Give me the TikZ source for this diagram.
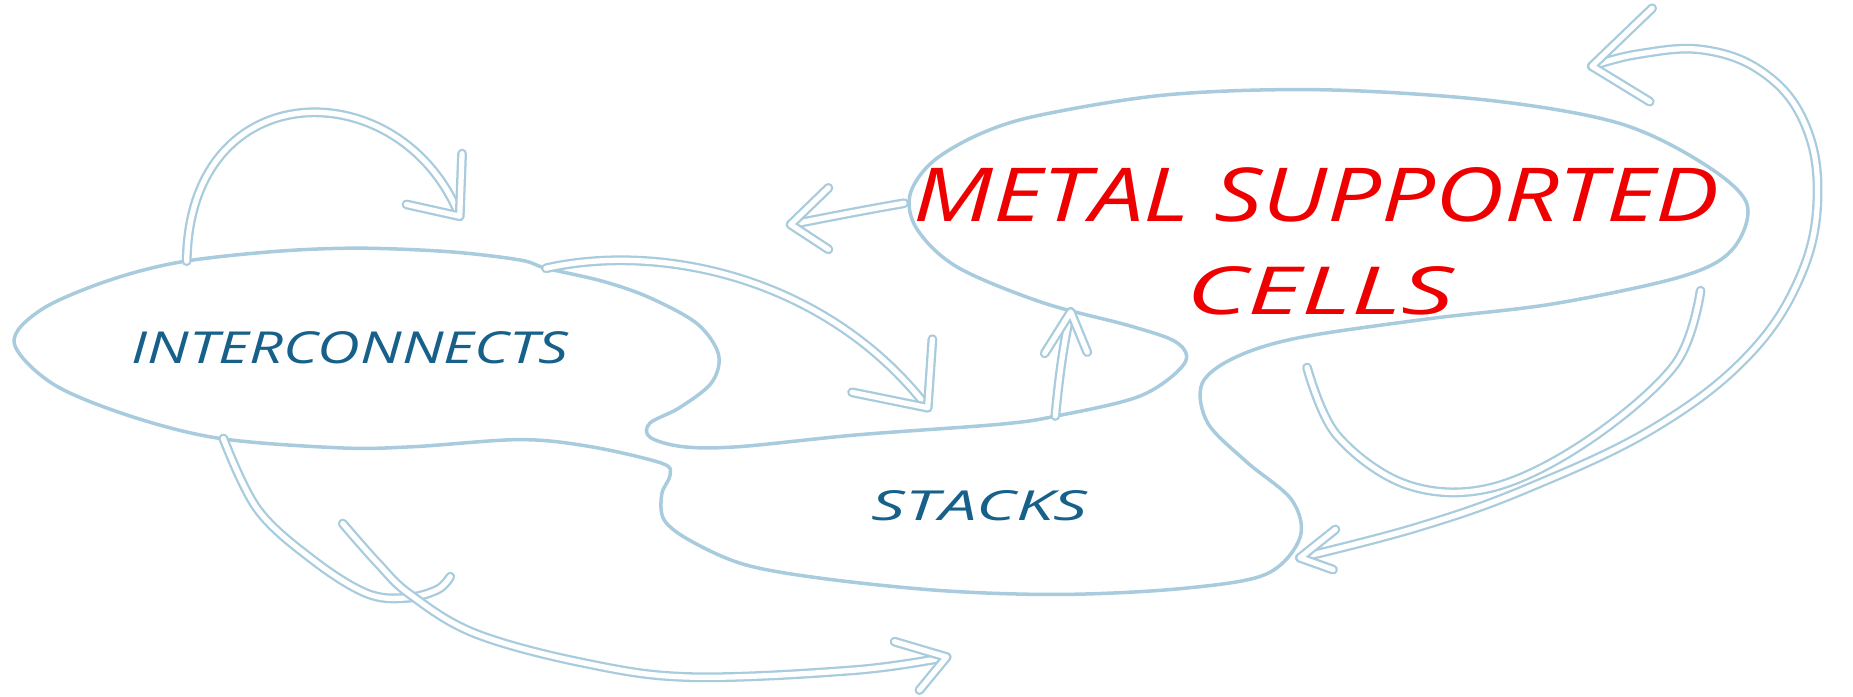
\documentclass[tikz,border=0pt]{standalone}
\usepackage{graphicx}
\usepackage{fontspec}
\newfontfamily\handfont{Open Sans}
\definecolor{penblue}{RGB}{168,204,222}
\definecolor{inkblue}{RGB}{22,96,138}
\definecolor{inkred}{RGB}{238,0,0}
\tikzset{
  outline/.style={draw=penblue,line width=1pt,line join=round},
  shaft/.style={draw=penblue,line width=0.65pt,double=white,double distance=1.5pt,line cap=round,line join=round},
  blobtext/.style={inner sep=0pt,font=\handfont\itshape}
}
\newcommand{\vhead}[3]{\draw[shaft] (#2) -- (#1) -- (#3);}
\begin{document}
\begin{tikzpicture}[x=0.011818cm,y=-0.011818cm]
            \useasboundingbox (0,0) rectangle (1568,589);
                % one outline round the three lobes
                \draw[outline] plot[smooth cycle,tension=0.55] coordinates {
                  (12,290) (35,262) (90,238) (151,222) (230,213) (302,210) (380,213) (440,220) (462,227)
                  (510,238) (550,252) (590,274) (608,300) (602,324) (575,345) (550,358) (550,370) (578,378)
                  (625,378) (725,368) (846,359) (894,352) (965,335) (1002,308) (996,290) (957,276) (882,256)
                  (810,226) (776,194) (770,165) (789,137) (830,113) (882,97) (990,80) (1120,76) (1261,85)
                  (1369,104) (1439,137) (1478,172) (1466,211) (1423,234) (1315,257) (1207,270) (1098,286)
                  (1044,303) (1017,325) (1022,358) (1055,391) (1093,423) (1100,455) (1071,486) (1000,498)
                  (900,503) (800,500) (700,490) (631,478) (585,458) (562,440) (560,418) (567,402) (560,392)
                  (500,378) (440,372) (350,378) (288,379) (186,371) (110,352) (45,325)};
                \node[blobtext,text=inkblue] (ic) at (296,294) {\resizebox{4.37cm}{0.32cm}{INTERCONNECTS}};
                \node[blobtext,text=inkblue] (st) at (829,428) {\resizebox{2.16cm}{0.30cm}{STACKS}};
                \node[blobtext,text=inkred] (msc) at (1114,165) {\resizebox{8.07cm}{0.54cm}{METAL SUPPORTED}};
                \node[blobtext,text=inkred] (cells) at (1117,246) {\resizebox{2.68cm}{0.48cm}{CELLS}};
                % arrow ends
                \coordinate (ictop) at (158,221);
                \coordinate (ictip) at (389,183);
                \coordinate (icjoin) at (462,227);
                \coordinate (sttip) at (785,345);
                \coordinate (stfoot) at (893,352);
                \coordinate (msctip) at (906,264);
                \coordinate (mscleft) at (765,172);
                \coordinate (outtip) at (669,190);
                \coordinate (icbot) at (189,371);
                \coordinate (hook) at (381,488);
                \coordinate (tail) at (290,443);
                \coordinate (lowtip) at (801,556);
                \coordinate (righttip) at (1100,472);
                \coordinate (toptip) at (1347,56);
                \coordinate (inA) at (1439,246);
                \coordinate (inB) at (1106,311);
                % arrows
                \draw[shaft] (ictop) .. controls (160,60) and (340,60) .. (ictip);
                \vhead{ictip}{344,173}{391,130}
                \draw[shaft] (icjoin) .. controls (560,205) and (700,235) .. (sttip);
                \vhead{sttip}{721,332}{789,287}
                \draw[shaft] (stfoot) .. controls (896,320) and (900,290) .. (msctip);
                \vhead{msctip}{884,299}{920,298}
                \draw[shaft] (mscleft) .. controls (730,178) and (700,184) .. (outtip);
                \vhead{outtip}{701,159}{701,211}
                \draw[shaft] plot[smooth,tension=0.6] coordinates {(icbot) (218,431) (265,474) (310,502) (343,506) (370,499) (hook)};
                \draw[shaft] plot[smooth,tension=0.6] coordinates {(tail) (320,477) (347,503) (402,536) (494,561) (585,573) (724,567) (lowtip)};
                \vhead{lowtip}{757,543}{778,584}
                \draw[shaft] plot[smooth,tension=0.6] coordinates {(inA) (1417,309) (1342,374) (1261,413) (1190,410) (1131,368) (inB)};
                \draw[shaft] plot[smooth,tension=0.65] coordinates {(righttip) (1200,446) (1293,413) (1400,362) (1480,300) (1525,230) (1538,160) (1525,100) (1490,60) (1440,42) (1385,46) (toptip)};
                \vhead{righttip}{1130,448}{1128,482}
                \vhead{toptip}{1398,7}{1396,86}
            \end{tikzpicture}
\end{document}
